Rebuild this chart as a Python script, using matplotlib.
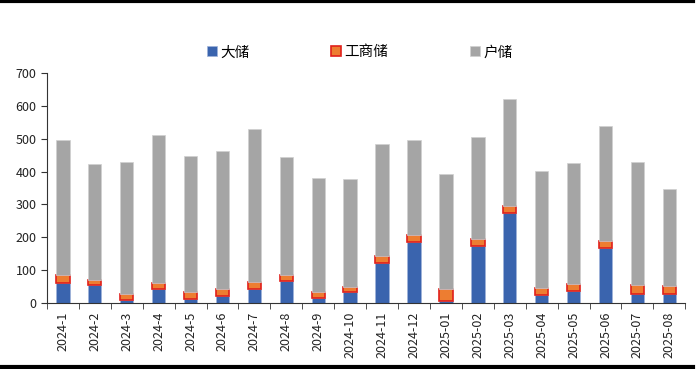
import numpy as np
import matplotlib.pyplot as plt
from matplotlib.lines import Line2D

plt.rcParams['font.family'] = ['Noto Sans CJK SC', 'DejaVu Sans']

# data
months = ['2024-1', '2024-2', '2024-3', '2024-4', '2024-5', '2024-6', '2024-7',
          '2024-8', '2024-9', '2024-10', '2024-11', '2024-12', '2025-01', '2025-02',
          '2025-03', '2025-04', '2025-05', '2025-06', '2025-07', '2025-08']
large = [62, 55, 10, 42, 12, 21, 42, 68, 15, 32, 123, 186, 6, 173, 275, 25, 37, 167, 26, 28]
commercial = [24, 16, 16, 20, 22, 22, 22, 17, 17, 18, 21, 21, 35, 22, 20, 20, 21, 23, 30, 24]
total = [495, 422, 428, 512, 448, 463, 530, 443, 380, 376, 483, 495, 393, 505, 620,
         402, 425, 540, 430, 346]
household = [t - a - b for t, a, b in zip(total, large, commercial)]

fig = plt.figure(figsize=(7, 3.69), dpi=100)
ax = fig.add_axes([0.067, 0.179, 0.912, 0.623])

x = np.arange(len(months))
w = 0.42
ax.bar(x, large, w, color='#3A64AE', edgecolor='#9FB3DA', linewidth=0.5, label='大储')
ax.bar(x, commercial, w, bottom=large, color='#ED7D31', edgecolor='#E0201B',
       linewidth=1.2, label='工商储')
bottom2 = [a + b for a, b in zip(large, commercial)]
ax.bar(x, household, w, bottom=bottom2, color='#A5A5A5', edgecolor='#D0D0D0',
       linewidth=0.5, label='户储')

ax.set_ylim(0, 700)
ax.set_yticks(range(0, 701, 100))
ax.set_xlim(-0.5, len(months) - 0.5)
ax.set_xticks(x)
ax.set_xticklabels(months, rotation=90, fontsize=9, color='#222222')
ax.tick_params(axis='x', length=0, pad=6)
ax.set_xticks(np.arange(-0.5, len(months)), minor=True)
ax.tick_params(axis='x', which='minor', length=4, direction='out', color='#333333')
ax.tick_params(axis='y', labelsize=9, length=4, colors='#333333', labelcolor='#222222')
for s in ['top', 'right']:
    ax.spines[s].set_visible(False)
ax.spines['left'].set_color('#333333')
ax.spines['bottom'].set_color('#333333')

ax.legend(ncol=3, loc='center', bbox_to_anchor=(0.49, 1.09), frameon=False,
          fontsize=10.5, handlelength=0.7, handleheight=0.7, columnspacing=5.6,
          handletextpad=0.2)

# black rules at top and bottom of the figure
fig.add_artist(Line2D([0, 0.99], [0.996, 0.996], color='black', linewidth=3,
                      transform=fig.transFigure))
fig.add_artist(Line2D([0, 0.99], [0.006, 0.006], color='black', linewidth=3,
                      transform=fig.transFigure))

fig.savefig('out.png', dpi=100)
